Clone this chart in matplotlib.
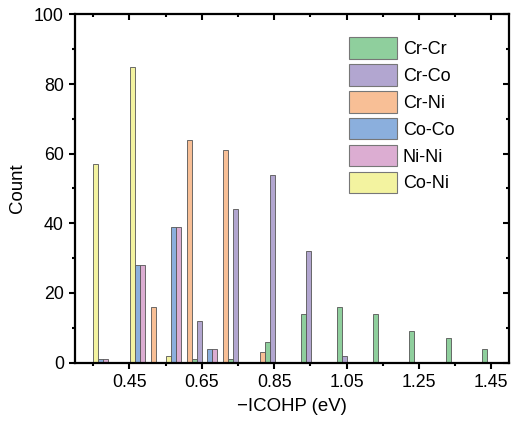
import matplotlib
matplotlib.use("Agg")
import matplotlib.pyplot as plt
from matplotlib.ticker import MultipleLocator, FixedLocator

plt.rcParams['font.family'] = ['Liberation Sans', 'DejaVu Sans']

# bin left edges (eV)
bin_starts = [0.35, 0.45, 0.55, 0.65, 0.75, 0.85, 0.95, 1.05, 1.15, 1.25, 1.35]

series_names = ["Cr-Cr", "Cr-Co", "Cr-Ni", "Co-Co", "Ni-Ni", "Co-Ni"]
cr_cr = [0, 0, 1, 1, 6, 14, 16, 14, 9, 7, 4]
cr_co = [0, 0, 12, 44, 54, 32, 2, 0, 0, 0, 0]
cr_ni = [0, 16, 64, 61, 3, 0, 0, 0, 0, 0, 0]
co_co = [1, 28, 39, 4, 0, 0, 0, 0, 0, 0, 0]
ni_ni = [1, 28, 39, 4, 0, 0, 0, 0, 0, 0, 0]
co_ni = [57, 85, 2, 0, 0, 0, 0, 0, 0, 0, 0]

xticks_major = [0.45, 0.65, 0.85, 1.05, 1.25, 1.45]
xtick_labels = ["0.45", "0.65", "0.85", "1.05", "1.25", "1.45"]

# style: colours and in-bin offsets
colors = {"Cr-Cr": "#8fcf9d", "Cr-Co": "#b2a6d0", "Cr-Ni": "#f8bf96",
          "Co-Co": "#8bafdd", "Ni-Ni": "#dcadd2", "Co-Ni": "#f3f3a0"}
offsets = {"Co-Ni": 0.0078, "Co-Co": 0.0215, "Ni-Ni": 0.0353,
           "Cr-Ni": 0.0670, "Cr-Cr": 0.0808, "Cr-Co": 0.0946}
data = {"Cr-Cr": cr_cr, "Cr-Co": cr_co, "Cr-Ni": cr_ni,
        "Co-Co": co_co, "Ni-Ni": ni_ni, "Co-Ni": co_ni}
bw = 0.0138

fig = plt.figure(figsize=(5.12, 4.25), dpi=100)
ax = fig.add_axes([0.1465, 0.147, 0.8485, 0.819])

handles = []
for name in series_names:
    xs = [b + offsets[name] for b in bin_starts]
    h = ax.bar(xs, data[name], width=bw, color=colors[name],
               edgecolor="#555555", linewidth=0.6, label=name, zorder=2)
    handles.append(h)

ax.set_xlim(0.30, 1.50)
ax.set_ylim(0, 100)
ax.xaxis.set_major_locator(FixedLocator(xticks_major))
ax.set_xticklabels(xtick_labels)
ax.xaxis.set_minor_locator(FixedLocator([0.35, 0.55, 0.75, 0.95, 1.15, 1.35]))
ax.yaxis.set_major_locator(MultipleLocator(20))
ax.yaxis.set_minor_locator(MultipleLocator(10))

for s in ax.spines.values():
    s.set_linewidth(1.6)
    s.set_zorder(5)

ax.tick_params(axis='both', which='major', direction='out', length=4, width=1.5,
               labelsize=12.8, pad=4)
ax.tick_params(axis='both', which='minor', direction='out', length=2.2, width=1.5)
# mirrored ticks inward on top/right
ax.tick_params(which='both', top=True, right=True)
for t in ax.xaxis.get_major_ticks() + ax.xaxis.get_minor_ticks():
    t.tick2line.set_marker(3)  # TICKDOWN: inward from top
for t in ax.yaxis.get_major_ticks() + ax.yaxis.get_minor_ticks():
    t.tick2line.set_marker(0)  # TICKLEFT: inward from right

ax.set_xlabel("\u2212ICOHP (eV)", fontsize=13.4, labelpad=5)
ax.set_ylabel("Count", fontsize=13.4, labelpad=6)

leg = fig.legend(handles=handles, labels=series_names, loc='upper left',
                 bbox_to_anchor=(0.682, 0.912), frameon=False, fontsize=13,
                 handlelength=2.67, handleheight=1.45, labelspacing=0.3,
                 handletextpad=0.3, borderpad=0, borderaxespad=0)
for p in leg.get_patches():
    p.set_edgecolor("#777777")
    p.set_linewidth(0.8)

fig.savefig("out.png", dpi=100)
